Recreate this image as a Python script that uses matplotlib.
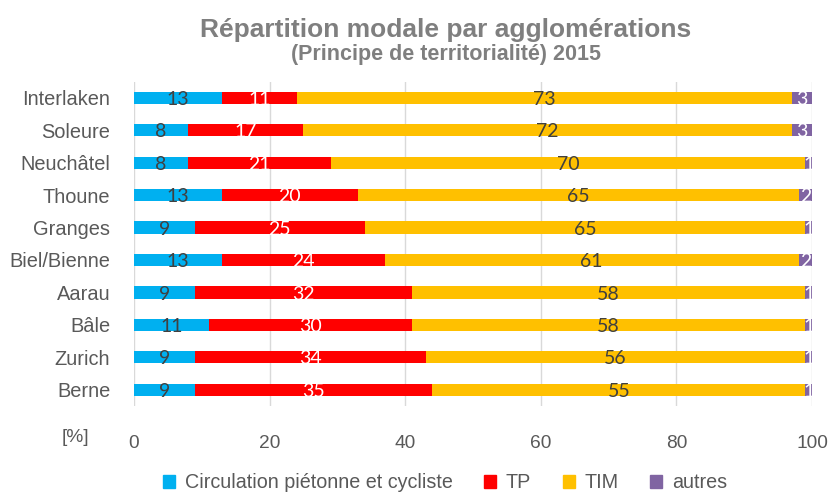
import matplotlib.pyplot as plt
from matplotlib.patches import Patch
import numpy as np

plt.rcParams['font.family'] = ['Liberation Sans', 'DejaVu Sans']

# Data (percentages), top to bottom as shown
villes = ['Interlaken', 'Soleure', 'Neuchâtel', 'Thoune', 'Granges',
          'Biel/Bienne', 'Aarau', 'Bâle', 'Zurich', 'Berne']
pieton_cycliste = [13, 8, 8, 13, 9, 13, 9, 11, 9, 9]
tp = [11, 17, 21, 20, 25, 24, 32, 30, 34, 35]
tim = [73, 72, 70, 65, 65, 61, 58, 58, 56, 55]
autres = [3, 3, 1, 2, 1, 2, 1, 1, 1, 1]

series = [pieton_cycliste, tp, tim, autres]
noms = ['Circulation piétonne et cycliste', 'TP', 'TIM', 'autres']
couleurs = ['#00B0F0', '#FF0000', '#FFC000', '#8064A2']
couleurs_texte = ['#404040', 'white', '#404040', 'white']

gris = '#595959'

fig = plt.figure(figsize=(8.29, 4.92), dpi=100)
ax = fig.add_axes([0.1616, 0.175, 0.818, 0.659])

y = np.arange(len(villes))
left = np.zeros(len(villes))
for vals, col, tcol in zip(series, couleurs, couleurs_texte):
    vals = np.array(vals, dtype=float)
    ax.barh(y, vals, left=left, height=0.38, color=col, zorder=3)
    # value labels in the middle of each segment
    for yi, l, v in zip(y, left, vals):
        ax.text(l + v / 2, yi + 0.05, f'{int(v)}', ha='center', va='center',
                color=tcol, fontsize=14, family='Lato', zorder=4)
    left += vals

ax.set_ylim(len(villes) - 0.5, -0.5)
ax.set_xlim(0, 100)
ax.set_xticks([0, 20, 40, 60, 80, 100])
ax.set_yticks(y)
ax.set_yticklabels(villes)
ax.tick_params(axis='y', length=0, pad=17, labelsize=14.4, labelcolor=gris)
ax.tick_params(axis='x', length=0, pad=21, labelsize=13.8, labelcolor=gris)
ax.grid(axis='x', color='#D9D9D9', linewidth=1, zorder=0)
for s in ax.spines.values():
    s.set_visible(False)

fig.text(75 / 829, 1 - 437 / 492, '[%]', ha='center', va='center',
         fontsize=13.8, color=gris)

fig.text(446 / 829, 1 - 37 / 492, 'Répartition modale par agglomérations',
         ha='center', va='baseline', fontsize=19, fontweight='bold', color='#7F7F7F')
fig.text(446 / 829, 1 - 60 / 492, '(Principe de territorialité) 2015',
         ha='center', va='baseline', fontsize=15.5, fontweight='bold', color='#7F7F7F')

handles = [Patch(color=c, label=n) for c, n in zip(couleurs, noms)]
leg = fig.legend(handles=handles, loc='center', bbox_to_anchor=(445 / 829, 1 - 483 / 492),
                 ncol=4, frameon=False, fontsize=14.2, handlelength=0.6, handleheight=0.6,
                 handletextpad=0.5, columnspacing=1.6, borderpad=0)
for t in leg.get_texts():
    t.set_color(gris)

fig.savefig('out.png', dpi=100)
